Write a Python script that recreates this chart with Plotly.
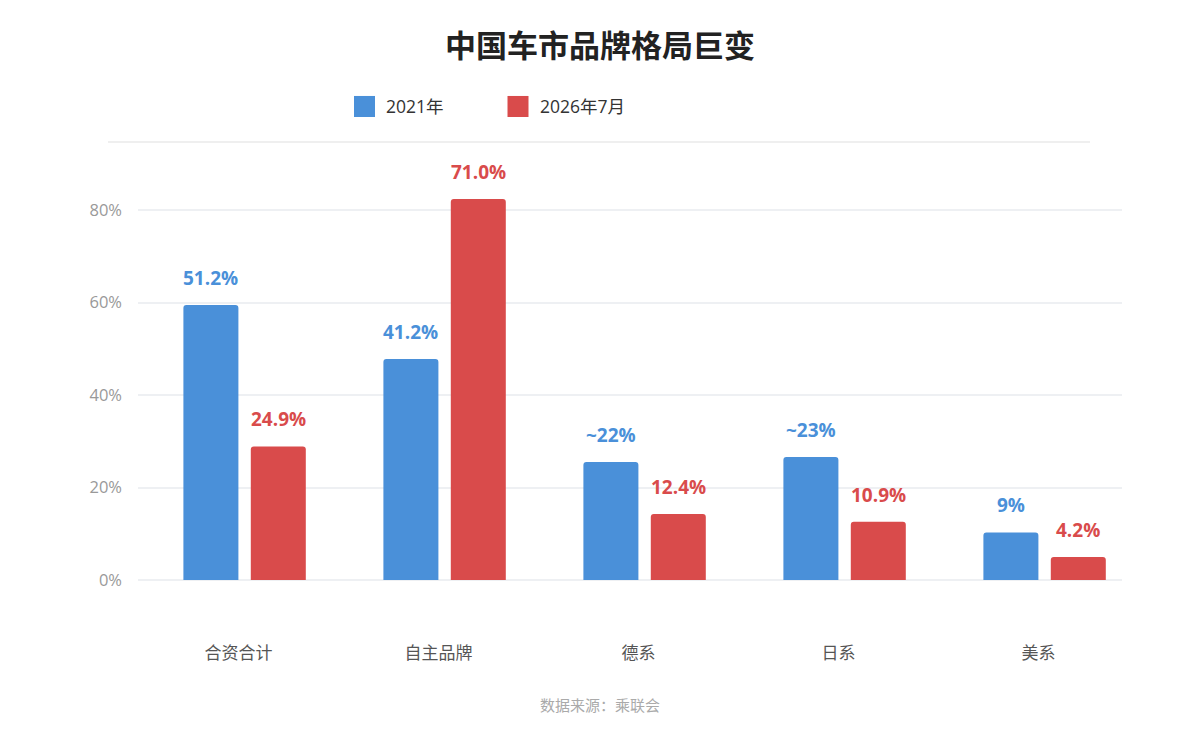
"""
中国车市品牌格局巨变 — grouped bar chart, 2021 vs 2026年7月 brand share.
"""

import plotly.graph_objects as go

# ---- data ----
categories = ["合资合计", "自主品牌", "德系", "日系", "美系"]
series_names = ["2021年", "2026年7月"]

# bar heights on the drawn axis (percent)
share_2021 = [59.5, 47.8, 25.5, 26.6, 10.3]
share_2026 = [28.9, 82.4, 14.3, 12.6, 5.0]

# value labels printed above each bar
labels_2021 = ["51.2%", "41.2%", "~22%", "~23%", "9%"]
labels_2026 = ["24.9%", "71.0%", "12.4%", "10.9%", "4.2%"]

y_ticks = [0, 20, 40, 60, 80]
y_tick_text = ["0%", "20%", "40%", "60%", "80%"]

BLUE = "#4a90d9"
RED = "#d94b4b"
FONT = "Open Sans, Noto Sans CJK SC, sans-serif"

# page body adds an 8px margin, so the figure is drawn 8px in from the window edge
OFF = 8
W, H = 1179 - 2 * OFF, 741 - 2 * OFF
PLOT_L, PLOT_R, PLOT_T, PLOT_B = 138, 1122, 142, 579.7   # window pixels
M_L, M_R = PLOT_L - OFF, W - (PLOT_R - OFF)
M_T, M_B = PLOT_T - OFF, H - (PLOT_B - OFF)
plot_w = W - M_L - M_R
plot_h = H - M_T - M_B

PX_PER_CAT = 200.0
PX_PER_PCT = 4.62


def px_x(p):
    return (p - PLOT_L) / plot_w


def px_y(p):
    return (PLOT_B - p) / plot_h


x_idx = list(range(len(categories)))
bar_w = 55 / PX_PER_CAT
blue_off = -61.2 / PX_PER_CAT
red_off = 6.2 / PX_PER_CAT
# category labels sit a few px left of the bar-group centre in the reference
label_pos = [i - 6 / PX_PER_CAT for i in x_idx]

fig = go.Figure()
fig.add_trace(go.Bar(
    x=x_idx, y=share_2021, name=series_names[0],
    width=bar_w, offset=blue_off,
    marker=dict(color=BLUE, cornerradius=3, line=dict(width=0)),
    hoverinfo="skip", showlegend=False,
))
fig.add_trace(go.Bar(
    x=x_idx, y=share_2026, name=series_names[1],
    width=bar_w, offset=red_off,
    marker=dict(color=RED, cornerradius=3, line=dict(width=0)),
    hoverinfo="skip", showlegend=False,
))

# value labels above bars
for vals, texts, off, color in (
    (share_2021, labels_2021, blue_off, BLUE),
    (share_2026, labels_2026, red_off, RED),
):
    for i, (v, t) in enumerate(zip(vals, texts)):
        fig.add_annotation(
            x=i + off + bar_w / 2, y=v, text=f"<b>{t}</b>",
            showarrow=False, yanchor="middle", yshift=27,
            font=dict(family=FONT, size=19, color=color),
        )

x_left = -(244.6 - PLOT_L) / PX_PER_CAT
x_range = [x_left, x_left + plot_w / PX_PER_CAT]
y_range = [0, plot_h / PX_PER_PCT]

# custom legend (rounded squares + text) and separator line
legend_items = [(series_names[0], BLUE, 354), (series_names[1], RED, 507.5)]
for name, color, px in legend_items:
    fig.add_shape(
        type="rect", xref="paper", yref="paper",
        x0=px_x(px), x1=px_x(px + 21), y0=px_y(117), y1=px_y(96),
        fillcolor=color, line=dict(width=0), layer="above",
    )
    fig.add_annotation(
        xref="paper", yref="paper", x=px_x(px + 30), y=px_y(106.5),
        text=name, showarrow=False, xanchor="left", yanchor="middle",
        font=dict(family=FONT, size=17.5, color="#333333"),
    )

fig.add_shape(
    type="line", xref="paper", yref="paper",
    x0=px_x(108), x1=px_x(1090), y0=px_y(142), y1=px_y(142),
    line=dict(color="#efefef", width=2),
)

fig.add_annotation(
    xref="paper", yref="paper", x=px_x(600), y=px_y(705),
    text="数据来源：乘联会", showarrow=False, xanchor="center", yanchor="middle",
    font=dict(family=FONT, size=15, color="#aaaaaa"),
)

fig.update_layout(
    width=W, height=H,
    margin=dict(l=M_L, r=M_R, t=M_T, b=M_B, autoexpand=False),
    paper_bgcolor="white", plot_bgcolor="white",
    barmode="overlay",
    showlegend=False,
    title=dict(
        text="<b>中国车市品牌格局巨变</b>",
        x=(600 - OFF) / W, xanchor="center", xref="container",
        y=1 - (46 - OFF) / H, yanchor="middle", yref="container",
        font=dict(family=FONT, size=31, color="#222222"),
    ),
    xaxis=dict(
        range=x_range, tickmode="array", tickvals=label_pos, ticktext=categories,
        showgrid=False, zeroline=False, showline=False, ticks="",
        ticklabelstandoff=61,
        tickfont=dict(family=FONT, size=17, color="#555555"),
        fixedrange=True,
    ),
    yaxis=dict(
        range=y_range, tickmode="array", tickvals=y_ticks, ticktext=y_tick_text,
        showgrid=True, gridcolor="#eef0f3", gridwidth=1.5,
        zeroline=True, zerolinecolor="#eef0f3", zerolinewidth=1.5,
        showline=False, ticks="", ticklabelstandoff=15,
        tickfont=dict(family=FONT, size=16.5, color="#999999"),
        fixedrange=True,
    ),
)

fig.write_html("out.html")
